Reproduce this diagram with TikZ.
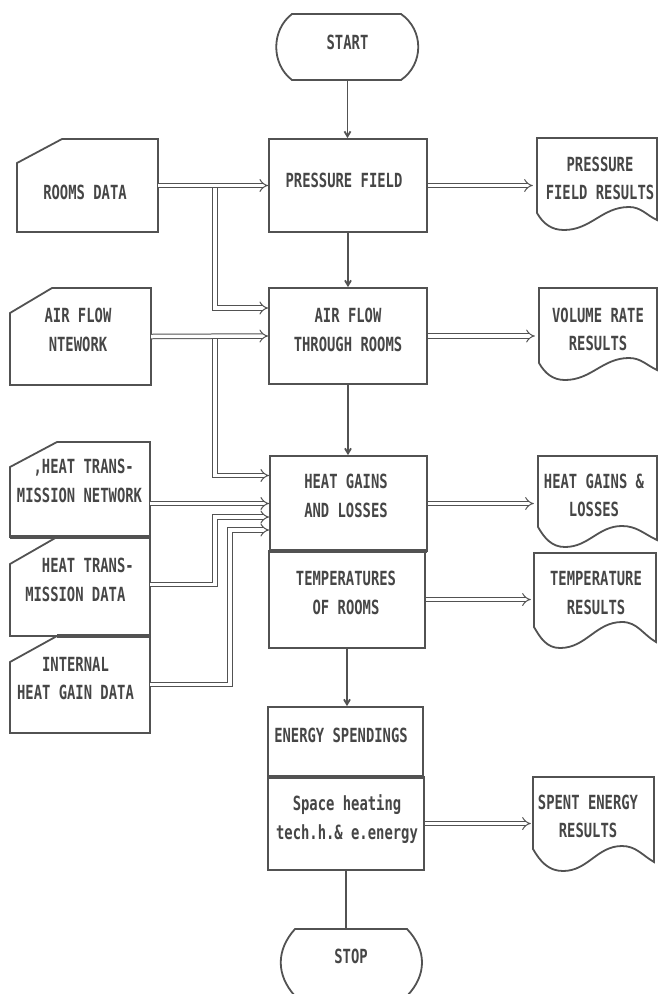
\documentclass[tikz,border=0pt]{standalone}
\usepackage{fontspec}
\newfontfamily\diafont{DejaVu Sans Mono}[FakeStretch=0.71]
\usetikzlibrary{arrows.meta}
\definecolor{lc}{RGB}{82,82,82}
\definecolor{tc}{RGB}{70,70,70}
\begin{document}
\begin{tikzpicture}[x=1pt,y=-1pt,
  shp/.style={draw=lc, line width=1.8pt, line join=miter},
  box/.style={shp, inner sep=0pt},
  anch/.style={inner sep=0pt},
  txt/.style={font=\diafont\bfseries\fontsize{19.5}{28.5}\selectfont, text=tc, inner sep=0pt, align=center},
  txtl/.style={txt, align=left},
  flow/.style={draw=lc, line width=1.8pt, -{Straight Barb[length=5pt,width=6pt]}},
  plainflow/.style={draw=lc, line width=1.8pt},
  dbl/.style={draw=lc, line width=1pt, double=white, double distance=3.5pt, -{Implies[scale=1.7]}},
  sharedline/.style={draw=lc, line width=3.8pt}]

\fill[white] (0,0) rectangle (659,994);
\useasboundingbox (0,0) rectangle (659,994);

% ---------- centre column ----------
\node[anch, minimum width=141pt, minimum height=66pt] (start) at (347.5,47) {};
\draw[shp] (292,14) -- (401,14) .. controls (424,30) and (424,64) .. (401,80) -- (292,80) .. controls (271,64) and (271,30) .. (292,14) -- cycle;
\node[txt] (startt) at (347.5,42) {START};

\node[box, minimum width=158pt, minimum height=93pt] (pf) at (348,185.5) {};
\node[txt] (pft) at (344,180) {PRESSURE FIELD};

\node[box, minimum width=158pt, minimum height=96pt] (af) at (348,336) {};
\node[txt] (aft) at (348,330) {AIR FLOW\\THROUGH ROOMS};

\node[box, minimum width=157pt, minimum height=95pt] (hg) at (348.5,503.5) {};
\node[txt] (hgt) at (346,496) {HEAT GAINS\\AND LOSSES};

\node[box, minimum width=156pt, minimum height=97pt] (temp) at (347,599.5) {};
\node[txt] (tempt) at (346,593) {TEMPERATURES\\OF ROOMS};
\draw[sharedline] (269,551) -- (427,551);

\node[box, minimum width=155pt, minimum height=70pt] (energy) at (345.5,742) {};
\node[txt] (energyt) at (341,735) {ENERGY SPENDINGS};

\node[box, minimum width=156pt, minimum height=93pt] (space) at (346,823.5) {};
\node[txt] (spacet) at (347,819) {Space heating\\tech.h.\& e.energy};
\draw[sharedline] (268,777) -- (424,777);

\node[anch, minimum width=140pt, minimum height=67pt] (stop) at (351,962.5) {};
\draw[shp] (295,929) -- (407,929) .. controls (427,950) and (427,975) .. (407,996) -- (295,996) .. controls (276,975) and (276,950) .. (295,929) -- cycle;
\node[txt] (stopt) at (351,956.5) {STOP};

% ---------- left column (data) ----------
\node[anch, minimum width=141pt, minimum height=93pt] (rooms) at (87.5,185.5) {};
\draw[shp] (17,163) -- (62,139) -- (158,139) -- (158,232) -- (17,232) -- cycle;
\node[txt] (roomst) at (85,192.5) {ROOMS DATA};

\node[anch, minimum width=141pt, minimum height=97pt] (afn) at (80.5,336.5) {};
\draw[shp] (10,313) -- (52,288) -- (151,288) -- (151,385) -- (10,385) -- cycle;
\node[txt] (afnt) at (78,330) {AIR FLOW\\NTEWORK};

\node[anch, minimum width=140pt, minimum height=95pt] (htn) at (80,489.5) {};
\draw[shp] (10,467) -- (57,442) -- (150,442) -- (150,537) -- (10,537) -- cycle;
\node[txtl] (htnt) at (79.5,481) {\phantom{..},HEAT TRANS-\\MISSION NETWORK};

\node[anch, minimum width=140pt, minimum height=99pt] (htd) at (80,586.5) {};
\draw[shp] (10,564) -- (57,537) -- (150,537) -- (150,636) -- (10,636) -- cycle;
\node[txtl] (htdt) at (79.5,580) {\phantom{..}HEAT TRANS-\\MISSION DATA};
\draw[sharedline] (10,537) -- (150,537);

\node[anch, minimum width=140pt, minimum height=97pt] (igd) at (80,684.5) {};
\draw[shp] (10,662) -- (57,636) -- (150,636) -- (150,733) -- (10,733) -- cycle;
\node[txt] (igdt) at (75.5,678.5) {INTERNAL\\HEAT GAIN DATA};
\draw[sharedline] (57,636) -- (150,636);

% ---------- right column (documents) ----------
\node[anch, minimum width=120pt, minimum height=80pt] (pfr) at (597,178) {};
\draw[shp] (537,138) -- (657,138) -- (657,220) to[out=155,in=0] (629,207) to[out=180,in=0] (564,230) to[out=180,in=-60] (537,213) -- cycle;
\node[txt] (pfrt) at (600,178.5) {PRESSURE\\FIELD RESULTS};

\node[anch, minimum width=118pt, minimum height=80pt] (vrr) at (598,328) {};
\draw[shp] (539,288) -- (657,288) -- (657,370) to[out=155,in=0] (629,358) to[out=180,in=0] (565,380) to[out=180,in=-60] (539,363) -- cycle;
\node[txt] (vrrt) at (598,329.5) {VOLUME RATE\\RESULTS};

\node[anch, minimum width=119pt, minimum height=80pt] (hgr) at (597.5,496) {};
\draw[shp] (538,456) -- (657,456) -- (657,540) to[out=155,in=0] (622,526) to[out=180,in=0] (565,547) to[out=180,in=-60] (538,527) -- cycle;
\node[txt] (hgrt) at (594,495.5) {HEAT GAINS \&\\LOSSES};

\node[anch, minimum width=122pt, minimum height=80pt] (tr) at (595,593) {};
\draw[shp] (534,553) -- (656,553) -- (656,642) to[out=150,in=0] (622,622) to[out=180,in=0] (560,648) to[out=180,in=-60] (534,627) -- cycle;
\node[txt] (trt) at (596,593) {TEMPERATURE\\RESULTS};

\node[anch, minimum width=121pt, minimum height=80pt] (ser) at (593.5,817) {};
\draw[shp] (533,777) -- (654,777) -- (654,862) to[out=150,in=0] (622,846) to[out=180,in=0] (563,871) to[out=180,in=-60] (533,849) -- cycle;
\node[txt] (sert) at (588,816.5) {SPENT ENERGY\\RESULTS};

% ---------- main flow ----------
\draw[flow] (start.south) -- (start.south |- pf.north);
\draw[flow] (pf.south) -- (pf.south |- af.north);
\draw[flow] (af.south) -- (af.south |- hg.north);
\draw[flow] (temp.south) -- (temp.south |- energy.north);
\draw[plainflow] (space.south) -- (space.south |- stop.north);

% ---------- input double arrows ----------
\coordinate (j1) at (215,185.5);
\coordinate (j2) at (215,336.5);
\draw[dbl] (j1) |- ([yshift=28pt]af.west);
\draw[dbl] (j2) |- ([yshift=28pt]hg.west);
\draw[dbl] (rooms.east) -- (pf.west);
\draw[dbl] (afn.east) -- (af.west);
\draw[dbl] (htn.east |- hg.west) -- (hg.west);
\draw[dbl] ([yshift=2pt]htd.east) -- ++(65,0) |- ([yshift=-13.5pt]hg.west);
\draw[dbl] (igd.east) -- ++(80,0) |- ([yshift=-26.5pt]hg.west);

% ---------- output double arrows ----------
\draw[dbl, shorten >=4pt] (pf.east) -- (pf.east -| pfr.west);
\draw[dbl, shorten >=4pt] (af.east) -- (af.east -| vrr.west);
\draw[dbl, shorten >=4pt] (hg.east) -- (hg.east -| hgr.west);
\draw[dbl, shorten >=3pt] (temp.east) -- (temp.east -| tr.west);
\draw[dbl, shorten >=2pt] (space.east) -- (space.east -| ser.west);
\end{tikzpicture}
\end{document}
